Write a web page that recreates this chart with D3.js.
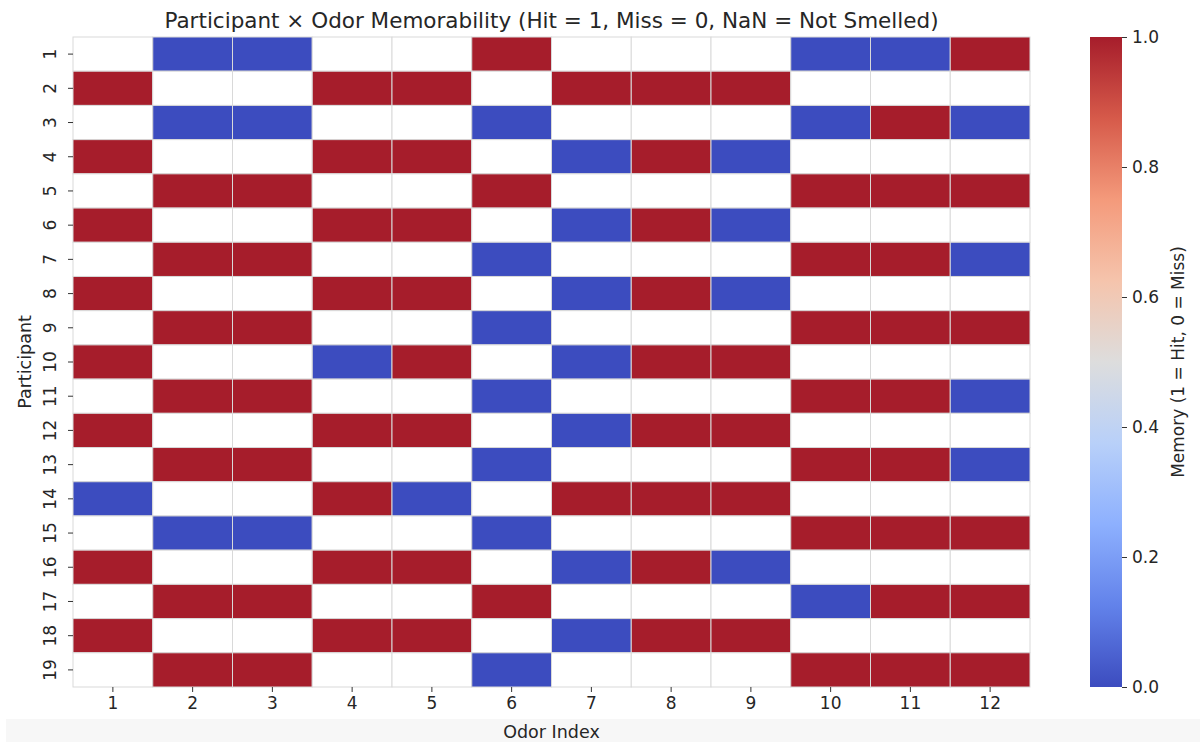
<!DOCTYPE html>
<html>
<head>
<meta charset="utf-8">
<script src="https://cdn.jsdelivr.net/npm/d3@7"></script>
<style>
  html, body { margin: 0; padding: 0; background: #fff; }
  svg text { font-family: "DejaVu Sans", sans-serif; fill: #262626; }
</style>
</head>
<body>
<svg id="chart" width="1200" height="742"></svg>
<script>
// ---- data ----
const odors = [1,2,3,4,5,6,7,8,9,10,11,12];
const participants = [1,2,3,4,5,6,7,8,9,10,11,12,13,14,15,16,17,18,19];
const N = null;
const memory = [
  [N,0,0,N,N,1,N,N,N,0,0,1],
  [1,N,N,1,1,N,1,1,1,N,N,N],
  [N,0,0,N,N,0,N,N,N,0,1,0],
  [1,N,N,1,1,N,0,1,0,N,N,N],
  [N,1,1,N,N,1,N,N,N,1,1,1],
  [1,N,N,1,1,N,0,1,0,N,N,N],
  [N,1,1,N,N,0,N,N,N,1,1,0],
  [1,N,N,1,1,N,0,1,0,N,N,N],
  [N,1,1,N,N,0,N,N,N,1,1,1],
  [1,N,N,0,1,N,0,1,1,N,N,N],
  [N,1,1,N,N,0,N,N,N,1,1,0],
  [1,N,N,1,1,N,0,1,1,N,N,N],
  [N,1,1,N,N,0,N,N,N,1,1,0],
  [0,N,N,1,0,N,1,1,1,N,N,N],
  [N,0,0,N,N,0,N,N,N,1,1,1],
  [1,N,N,1,1,N,0,1,0,N,N,N],
  [N,1,1,N,N,1,N,N,N,0,1,1],
  [1,N,N,1,1,N,0,1,1,N,N,N],
  [N,1,1,N,N,0,N,N,N,1,1,1]
];
const cbTicks = [0.0, 0.2, 0.4, 0.6, 0.8, 1.0];
// coolwarm anchors
const cwStops = [0, 0.125, 0.25, 0.375, 0.5, 0.625, 0.75, 0.875, 1];
const cwColors = ["#3c4cbf","#6282ea","#8db0fe","#b8d0f9","#dddddd","#f5c4ac","#f49a7b","#d65a4a","#a61d2b"];

const svg = d3.select("#chart");
const M = {left: 73, right: 1030, top: 37, bottom: 687};

const x = d3.scaleBand().domain(odors).range([M.left, M.right]);
const y = d3.scaleBand().domain(participants).range([M.top, M.bottom]);
const color = d3.scaleLinear().domain(cwStops).range(cwColors).interpolate(d3.interpolateRgb);

// bottom faint band
svg.append("rect").attr("x", 6).attr("y", 719).attr("width", 1194).attr("height", 23).attr("fill", "#f7f7f7");

// cells
const cells = [];
participants.forEach((p, i) => odors.forEach((o, j) => cells.push({p, o, v: memory[i][j]})));
svg.append("g").selectAll("rect").data(cells).join("rect")
  .attr("x", d => x(d.o)).attr("y", d => y(d.p))
  .attr("width", x.bandwidth()).attr("height", y.bandwidth())
  .attr("fill", d => d.v === null ? "#ffffff" : color(d.v))
  .attr("stroke", "#d9d9d9").attr("stroke-width", 1);

// x axis
const xAxis = svg.append("g").attr("transform", `translate(0,${M.bottom})`)
  .call(d3.axisBottom(x).tickSize(5).tickPadding(5));
xAxis.select(".domain").remove();
xAxis.selectAll("line").attr("stroke", "#333").attr("stroke-width", 1);
xAxis.selectAll("text").style("font-size", "17px").attr("fill", "#262626");

// y axis
const yAxis = svg.append("g").attr("transform", `translate(${M.left},0)`)
  .call(d3.axisLeft(y).tickSize(5).tickPadding(5));
yAxis.select(".domain").remove();
yAxis.selectAll("line").attr("stroke", "#333").attr("stroke-width", 1);
yAxis.selectAll(".tick text").each(function() {
  d3.select(this).style("font-size", "17px").attr("fill", "#262626")
    .attr("text-anchor", "middle").attr("dy", null).attr("dominant-baseline", "central")
    .attr("transform", "translate(-23,0) rotate(-90)").attr("x", 0).attr("y", 0);
});

// labels
svg.append("text").attr("x", (M.left + M.right) / 2).attr("y", 738)
  .attr("text-anchor", "middle").style("font-size", "17.5px").text("Odor Index");
svg.append("text").attr("transform", `translate(31,${(M.top + M.bottom) / 2}) rotate(-90)`)
  .attr("text-anchor", "middle").style("font-size", "17.5px").text("Participant");
svg.append("text").attr("x", (M.left + M.right) / 2).attr("y", 27.5)
  .attr("text-anchor", "middle").style("font-size", "21.5px")
  .text("Participant × Odor Memorability (Hit = 1, Miss = 0, NaN = Not Smelled)");

// colorbar
const cb = {x: 1090, w: 32, top: M.top, bottom: M.bottom};
const cy = d3.scaleLinear().domain([0, 1]).range([cb.bottom, cb.top]);
const defs = svg.append("defs");
const grad = defs.append("linearGradient").attr("id", "cbgrad")
  .attr("x1", 0).attr("y1", 1).attr("x2", 0).attr("y2", 0);
grad.selectAll("stop").data(cwStops).join("stop")
  .attr("offset", d => d).attr("stop-color", d => color(d));
svg.append("rect").attr("x", cb.x).attr("y", cb.top).attr("width", cb.w)
  .attr("height", cb.bottom - cb.top).attr("fill", "url(#cbgrad)");
const cAxis = svg.append("g").attr("transform", `translate(${cb.x + cb.w},0)`)
  .call(d3.axisRight(cy).tickValues(cbTicks).tickFormat(d3.format(".1f")).tickSize(5).tickPadding(5));
cAxis.select(".domain").remove();
cAxis.selectAll("line").attr("stroke", "#333");
cAxis.selectAll("text").style("font-size", "17px").attr("fill", "#262626");
svg.append("text").attr("transform", `translate(1184,${(cb.top + cb.bottom) / 2}) rotate(-90)`)
  .attr("text-anchor", "middle").style("font-size", "17px").text("Memory (1 = Hit, 0 = Miss)");
</script>
</body>
</html>
